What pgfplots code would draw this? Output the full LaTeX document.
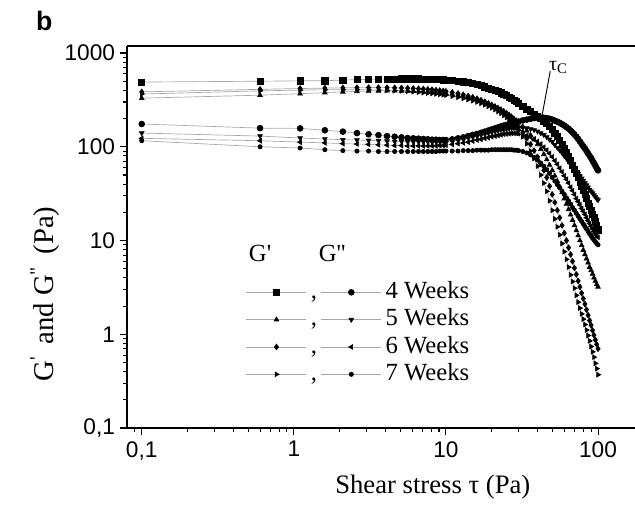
\documentclass[border=0pt]{standalone}
\usepackage{pgfplots}
\pgfplotsset{compat=1.18}
\usepackage{pgfplotstable}
\usepackage{fontspec}
\setmainfont{Liberation Serif}
\newfontfamily\arial{Liberation Sans}
\usetikzlibrary{calc}

% Storage (G') and loss (G'') moduli versus shear stress, 4 to 7 weeks
% A: G' 4w   B: G'' 4w   C: G' 5w   D: G' 6w   E: G' 7w
% F: G'' 5w  G: G'' 6w   H: G'' 7w
\pgfplotstableread{
x     A    B    C    D    E     F    G    H
0.1   490  175  330  385  365   140  123  116
0.6   500  158  355  410  395   130  116  100
1.1   505  157  368  418  402   124  112  97
1.6   505  150  378  422  405   121  110  93
2.1   515  145  385  425  406   119  108  91
2.6   520  140  390  427  406   118  107  90
3.1   522  136  393  428  405   117  106  90
3.6   525  133  395  428  403   116  105  89
4.1   527  130  396  427  400   115  104  89
4.6   528  128  396  426  397   114  103  89
5.1   530  126  395  424  394   114  103  89
5.6   530  124  394  422  390   113  102  89
6.1   530  123  392  419  386   113  102  89
6.6   530  122  390  416  382   113  102  89
7.1   528  121  388  413  378   113  102  89
7.6   527  120  385  410  374   113  102  89
8.1   525  119  382  406  370   113  102  89
8.6   523  119  379  402  366   114  102  89
9.1   520  118  376  398  362   114  103  90
9.6   518  118  373  394  358   115  103  90
10    515  118  370  390  355   115  104  90
11    508  120  362  380  346   117  106  90
12    500  123  354  370  337   119  108  90
13    492  126  345  359  328   122  110  91
14    482  130  336  348  319   125  112  91
15    472  134  327  337  310   128  115  91
16    460  137  318  326  300   131  118  92
17    448  141  309  314  290   134  120  92
18    436  145  300  302  280   137  123  92
19    424  149  290  290  270   140  125  92
20    412  153  280  278  260   143  128  93
21    400  157  270  266  249   146  130  93
22    388  161  260  254  238   149  132  93
23    376  165  250  242  227   151  134  93
24    364  168  240  230  216   153  136  93
25    352  171  230  218  205   155  137  93
26    340  174  220  206  194   157  138  93
27    328  177  210  195  183   158  139  93
28    316  180  200  184  172   159  139  92
29    304  183  190  173  161   160  139  92
30    293  186  181  162  150   160  138  91
32    272  191  164  142  128   160  136  89
34    253  195  148  123  108   158  132  86
36    238  199  133  106  90    155  127  82
38    224  202  119  91   75    151  121  77
40    212  204  106  78   62    146  114  72
42    200  205  94   66   50    140  107  67
44    188  204  83   56   41    134  99   62
46    176  202  73   47   33.5  127  92   57
48    164  199  64   38   26.5  120  85   52
50    152  195  56   31   21    113  78   47
52    140  190  49   25.5 17    105  71   43
54    128  185  43   21   14    98   65   39.5
56    117  180  37.5 17.5 11.5  92   59   36.5
58    106  174  32.5 14.5 9.3   86   54   33.5
60    96   168  28   12   7.6   80   49   31
62    87   162  24.5 10   6.3   75   45   28.5
64    79   156  21.5 8.4  5.2   70   41   26.5
66    71   149  18.8 7.1  4.3   66   37   24.5
68    64   142  16.5 6.0  3.65  62   34   22.5
70    58   135  14.5 5.1  3.1   58   31   21
72    52   128  12.8 4.35 2.6   54.5 28   19.5
74    47   121  11.3 3.7  2.2   51.5 26   18.2
76    42   114  10   3.2  1.9   48.5 24   17
78    38   107  8.9  2.75 1.65  46   22   16
80    34   101  7.9  2.4  1.45  43.5 20.5 15
82    31   96   7.1  2.1  1.27  41   19   14.1
84    28   90   6.4  1.83 1.11  39   17.5 13.3
86    25   85   5.8  1.6  0.97  37   16.3 12.5
88    23   80   5.2  1.4  0.85  35   15.2 11.8
90    21   76   4.8  1.25 0.74  33.5 14.2 11.2
92    19   71   4.4  1.1  0.65  32   13.3 10.6
94    17.5 67   4.0  0.98 0.57  30.5 12.5 10.1
96    16   63   3.7  0.87 0.49  29.3 11.8 9.7
98    14.5 59   3.4  0.78 0.43  28   11.3 9.3
100   13   56   3.2  0.70 0.37  27   10.8 9.0
}\moduli

\pgfplotsset{
  gline/.style={draw=black!35, line width=0.5pt},
}

\begin{document}
\begin{tikzpicture}
\begin{axis}[
  name=ax,
  at={(0,0)}, anchor=south west,
  scale only axis, width=381pt, height=286.5pt,
  xmode=log, ymode=log,
  xmin=0.08, xmax=175, ymin=0.1, ymax=1188,
  axis lines*=left,
  axis line style={line width=1pt},
  clip mode=individual,
  tick align=outside,
  major tick length=5.5pt, minor tick length=3pt,
  every tick/.style={black, line width=0.8pt},
  xtick={0.1,1,10,100}, xticklabels={{0,1},1,10,100},
  ytick={0.1,1,10,100,1000}, yticklabels={{0,1},1,10,100,1000},
  minor xtick={0.09,0.2,0.3,0.4,0.5,0.6,0.7,0.8,0.9,2,3,4,5,6,7,8,9,20,30,40,50,60,70,80,90},
  minor ytick={0.2,0.3,0.4,0.5,0.6,0.7,0.8,0.9,2,3,4,5,6,7,8,9,20,30,40,50,60,70,80,90,200,300,400,500,600,700,800,900},
  tick label style={font=\arial\fontsize{17}{20}\selectfont},
  xticklabel style={yshift=-1pt},
  xlabel={Shear stress τ (Pa)},
  xlabel style={at={(axis description cs:0.602,-0.154)}, anchor=center, font=\fontsize{20}{24}\selectfont},
  ylabel={G\textsuperscript{\textquotesingle}\, and G\textsuperscript{\textquotedbl}\, (Pa)},
  ylabel style={at={(axis description cs:-0.161,0.351)}, anchor=center, font=\fontsize{21.5}{25}\selectfont},
  legend columns=2,
  legend cell align=left,
  legend style={draw=none, fill=none, inner sep=0pt,
    at={(axis description cs:0.234,0.383)}, anchor=north west,
    font=\fontsize{18.5}{21}\selectfont,
    nodes={inner xsep=3pt, inner ysep=0pt, text height=12.5pt, text depth=3pt},
    row sep=5pt},
  legend image code/.code={%
    \draw[mark repeat=2,mark phase=2] plot coordinates {(0pt,0pt) (22.5pt,0pt) (45pt,0pt)};},
]
\addplot[gline, mark=square*, mark size=2.3pt, mark options={solid, draw=black, fill=black}] table[x=x,y=A]{\moduli};
\addlegendentry{,}
\addplot[gline, mark=*, mark size=2.2pt, mark options={solid, draw=black, fill=black}] table[x=x,y=B]{\moduli};
\addlegendentry{4 Weeks}
\addplot[gline, mark=triangle*, mark size=2pt, mark options={solid, draw=black, fill=black}] table[x=x,y=C]{\moduli};
\addlegendentry{,}
\addplot[gline, mark=triangle*, mark size=2pt, mark options={solid, draw=black, fill=black, rotate=180}] table[x=x,y=F]{\moduli};
\addlegendentry{5 Weeks}
\addplot[gline, mark=diamond*, mark size=2.1pt, mark options={solid, draw=black, fill=black}] table[x=x,y=D]{\moduli};
\addlegendentry{,}
\addplot[gline, mark=triangle*, mark size=2pt, mark options={solid, draw=black, fill=black, rotate=90}] table[x=x,y=G]{\moduli};
\addlegendentry{6 Weeks}
\addplot[gline, mark=triangle*, mark size=2pt, mark options={solid, draw=black, fill=black, rotate=-90}] table[x=x,y=E]{\moduli};
\addlegendentry{,}
\addplot[gline, mark=*, mark size=1.6pt, mark options={solid, draw=black, fill=black}] table[x=x,y=H]{\moduli};
\addlegendentry{7 Weeks}

% crossover stress marker
\draw[line width=0.7pt] (axis cs:42.7,208) -- (axis cs:48.5,640);
\node[anchor=south west, inner sep=0pt, font=\fontsize{15}{18}\selectfont]
  at (axis cs:47.5,600) {τ\raisebox{-0.35ex}{\fontsize{11}{13}\selectfont C}};

% legend column headings
\node[font=\fontsize{18.5}{21}\selectfont] at (axis description cs:0.262,0.458) {G\textquotesingle};
\node[font=\fontsize{18.5}{21}\selectfont] at (axis description cs:0.404,0.458) {G\textquotesingle\textquotesingle};
\end{axis}
\draw[line width=1pt] (ax.north west) -- (ax.north east);
\node[font=\arial\bfseries\fontsize{20}{24}\selectfont] at ($(ax.north west)+(-62pt,18.75pt)$) {b};
\pgfresetboundingbox
\path ($(ax.south west)+(-95.25pt,-60.75pt)$) rectangle ($(ax.north east)+(0pt,34.5pt)$);
\end{tikzpicture}
\end{document}
